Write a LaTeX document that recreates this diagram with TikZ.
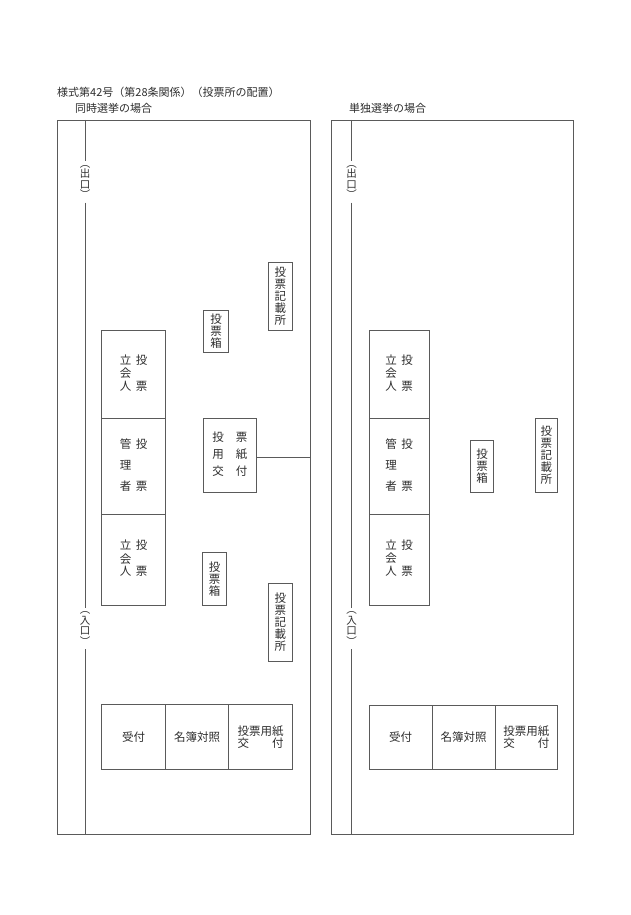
\documentclass[tikz,border=0pt]{standalone}
\usepackage{fontspec}
\setmainfont{Noto Sans CJK JP}
\usetikzlibrary{positioning}
\definecolor{wallgray}{RGB}{90,90,90}
\definecolor{inkgray}{RGB}{45,45,45}
\newcommand{\jtext}{\fontsize{11.5}{12}\selectfont}
\tikzset{
  room/.style={draw=wallgray, line width=0.8pt, inner sep=0pt, outer sep=0pt},
  booth/.style={draw=wallgray, line width=0.8pt, inner sep=0pt, outer sep=0pt,
    align=center, text=inkgray, font=\jtext},
  gate/.style={inner sep=0pt, outer sep=4pt, align=center, text=inkgray,
    font=\fontsize{10.5}{10.5}\selectfont},
  wall/.style={draw=wallgray, line width=0.8pt},
  heading/.style={anchor=west, inner sep=0pt, text=inkgray, font=\fontsize{11}{12}\selectfont},
}

\begin{document}
\begin{tikzpicture}[x=1pt,y=-1pt]
\useasboundingbox (0,0) rectangle (630,915);

% titles
\node[heading] (title) at (57,92) {様式第42号（第28条関係）（投票所の配置）};
\node[heading] (headA) at (75,108) {同時選挙の場合};
\node[heading] (headB) at (349,108) {単独選挙の場合};

% rooms
\node[room, minimum width=253pt, minimum height=714pt] (roomA) at (183.5,477) {};
\node[room, minimum width=242pt, minimum height=714pt] (roomB) at (452,477) {};

% exits and entrances
\node[gate] (exitA) at (85,182) {︵\\出\\口\\︶};
\node[gate] (entA) at (85,628.5) {︵\\入\\口\\︶};
\node[gate] (exitB) at (351.5,182) {︵\\出\\口\\︶};
\node[gate] (entB) at (351.5,628.5) {︵\\入\\口\\︶};
\draw[wall] (roomA.north -| exitA) -- (exitA.north);
\draw[wall] (exitA.south) -- (entA.north);
\draw[wall] (entA.south) -- (roomA.south -| entA);
\draw[wall] (roomB.north -| exitB) -- (exitB.north);
\draw[wall] (exitB.south) -- (entB.north);
\draw[wall] (entB.south) -- (roomB.south -| entB);

% simultaneous election
\node[booth, minimum width=24pt, minimum height=67.3pt] (kisaiA1) at (280.3,296.3) {投\\票\\記\\載\\所};
\node[booth, minimum width=25.4pt, minimum height=42pt] (hakoA1) at (216,331) {投\\票\\箱};
\node[booth, minimum width=64pt, minimum height=88.4pt] (tachiA1) at (133.7,374.5)
  {\begin{tabular}{@{}c@{\hspace{4.5pt}}c@{}}立&投\\会&\\人&票\end{tabular}};
\node[booth, minimum width=64pt, minimum height=96pt, below=0pt of tachiA1] (kanriA)
  {\begin{tabular}{@{}c@{\hspace{4.5pt}}c@{}}管&投\\[8pt]理&\\[8pt]者&票\end{tabular}};
\node[booth, minimum width=64pt, minimum height=90.3pt, below=0pt of kanriA] (tachiA2)
  {\begin{tabular}{@{}c@{\hspace{4.5pt}}c@{}}立&投\\会&\\人&票\end{tabular}};
\node[booth, minimum width=53pt, minimum height=74pt] (kofuA) at (229.8,455.3)
  {\begin{tabular}{@{}c@{\hspace{12pt}}c@{}}投&票\\[3.5pt]用&紙\\[3.5pt]交&付\end{tabular}};
\draw[wall] ([yshift=-2pt]kofuA.east) -- ([yshift=-2pt]kofuA.east -| roomA.east);
\node[booth, minimum width=24.4pt, minimum height=52.6pt] (hakoA2) at (214.5,579) {投\\票\\箱};
\node[booth, minimum width=24pt, minimum height=78pt] (kisaiA2) at (280.3,622) {投\\票\\記\\載\\所};

\node[booth, minimum width=64pt, minimum height=64.6pt] (ukeA) at (133.7,737) {受付};
\node[booth, minimum width=63pt, minimum height=64.6pt, right=0pt of ukeA] (meiboA) {名簿対照};
\node[booth, minimum width=63.6pt, minimum height=64.6pt, right=0pt of meiboA] (yoshiA)
  {\fontsize{11.5}{13.3}\selectfont 投票用紙\\\makebox[4em]{交\hfill 付}};

% single election
\node[booth, minimum width=60pt, minimum height=88.4pt] (tachiB1) at (399,374.5)
  {\begin{tabular}{@{}c@{\hspace{4.5pt}}c@{}}立&投\\会&\\人&票\end{tabular}};
\node[booth, minimum width=60pt, minimum height=95.6pt, below=0pt of tachiB1] (kanriB)
  {\begin{tabular}{@{}c@{\hspace{4.5pt}}c@{}}管&投\\[8pt]理&\\[8pt]者&票\end{tabular}};
\node[booth, minimum width=60pt, minimum height=90.7pt, below=0pt of kanriB] (tachiB2)
  {\begin{tabular}{@{}c@{\hspace{4.5pt}}c@{}}立&投\\会&\\人&票\end{tabular}};
\node[booth, minimum width=23.4pt, minimum height=52.4pt] (hakoB) at (482,466.5) {投\\票\\箱};
\node[booth, minimum width=22.7pt, minimum height=74.4pt] (kisaiB) at (546.3,455.5) {投\\票\\記\\載\\所};

\node[booth, minimum width=62.7pt, minimum height=64.3pt] (ukeB) at (400.65,737.15) {受付};
\node[booth, minimum width=63pt, minimum height=64.3pt, right=0pt of ukeB] (meiboB) {名簿対照};
\node[booth, minimum width=62.7pt, minimum height=64.3pt, right=0pt of meiboB] (yoshiB)
  {\fontsize{11.5}{13.3}\selectfont 投票用紙\\\makebox[4em]{交\hfill 付}};

\end{tikzpicture}
\end{document}
